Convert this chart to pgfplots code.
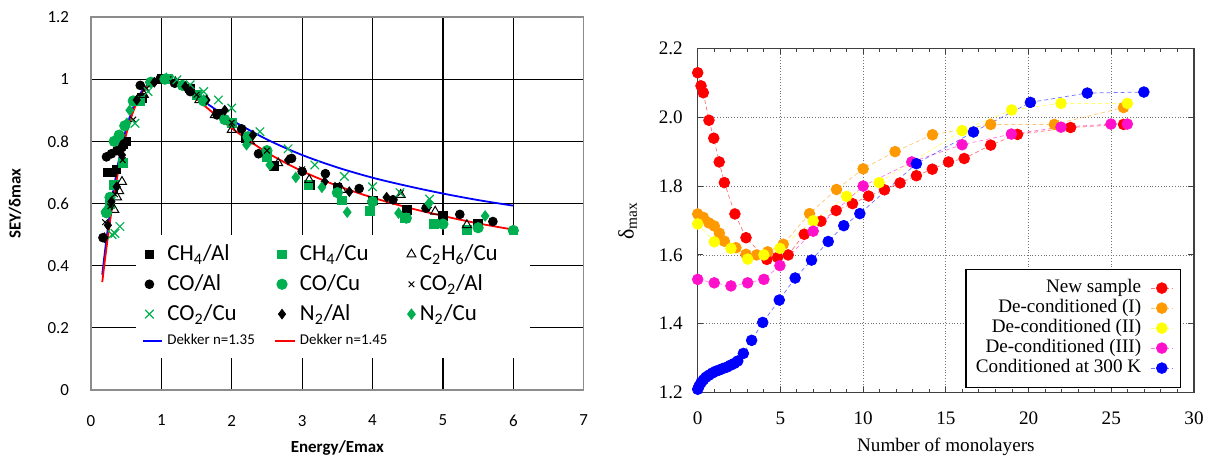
\documentclass[border=0pt]{standalone}
\usepackage{fontspec}
\setmainfont{Carlito}
\newfontfamily\libserif{Liberation Serif}
\usepackage{pgfplots}
\pgfplotsset{compat=1.18}
\definecolor{xlgreen}{HTML}{00B050}
\definecolor{framegray}{HTML}{8C8C8C}
\definecolor{sred}{HTML}{FF0000}
\definecolor{sorange}{HTML}{FF9900}
\definecolor{syellow}{HTML}{FFFF00}
\definecolor{smagenta}{HTML}{FF11CC}
\definecolor{sblue}{HTML}{0000FF}

\pgfplotsset{
  lmark/.style={only marks, legend image code/.code={\draw[##1] plot coordinates {(0.12cm,0cm)};}},
  lcurve/.style={no marks, line width=0.9bp, smooth, legend image code/.code={\draw[##1] (0cm,0cm) -- (0.35cm,0cm);}},
  mono/.style={color=#1, line width=0.35bp, dash pattern=on 2bp off 1.5bp, draw opacity=0.55,
    mark=*, mark size=2.7bp, mark options={solid, fill=#1, draw=#1, draw opacity=1, fill opacity=1},
    legend image code/.code={\draw[mark repeat=2,mark phase=2,##1] plot coordinates {(0cm,0cm) (0.2cm,0cm) (0.4cm,0cm)};}},
}
\newcommand{\lgd}[1]{\makebox[50bp][l]{#1}}
\newcommand{\rfont}{\libserif\fontsize{9.6}{11}\selectfont}

\begin{document}
\begin{tikzpicture}
\useasboundingbox (0,0) rectangle (608.5bp,229.5bp);

% left panel: normalised SEY curves
\begin{axis}[
  at={(45.5bp,34.5bp)}, anchor=south west,
  scale only axis, width=246.35bp, height=186.5bp,
  xmin=0, xmax=7, ymin=0, ymax=1.2,
  xtick={0,1,2,3,4,5,6,7}, ytick={0,0.2,0.4,0.6,0.8,1,1.2},
  grid=major, grid style={black, line width=0.6bp},
  axis line style={framegray, line width=0.7bp},
  major tick length=0pt,
  tick label style={font=\fontsize{8.5}{10}\selectfont},
  /pgf/number format/assume math mode=true,
  xticklabel style={yshift=-9bp},
  yticklabel style={xshift=-7.5bp, /pgf/number format/fixed},
  xlabel={Energy/Emax}, ylabel={SEY/δmax},
  label style={font=\fontsize{8.5}{10}\selectfont\bfseries},
  xlabel style={at={(axis description cs:0.5,-0.155)}, anchor=center},
  ylabel style={at={(axis description cs:-0.154,0.5)}, anchor=center},
  legend columns=3,
  legend style={at={(axis cs:0.63,0.5)}, anchor=north west, draw=none, fill=white,
    inner xsep=3pt, inner ysep=3pt, font=\fontsize{11.5}{13}\selectfont,
    /tikz/every even column/.append style={column sep=1.5bp},
    /tikz/row sep=1.5bp},
  legend cell align=left,
]
\addplot[lmark, mark=square*, mark size=2.2bp, black] coordinates {
(0.24,0.70)(0.30,0.70)(0.36,0.71)(0.45,0.79)(0.50,0.80)(0.72,0.94)(1.00,1.00)(1.40,0.97)
(1.80,0.89)(2.20,0.81)(2.60,0.72)(3.11,0.66)(3.50,0.65)(4.00,0.61)(4.49,0.58)(5.00,0.56)
(5.50,0.535)(6.00,0.50)};
\addlegendentry{\lgd{CH\textsubscript{4}/Al}}
\addplot[lmark, mark=square*, mark size=2.2bp, xlgreen] coordinates {
(0.27,0.60)(0.33,0.66)(0.45,0.73)(0.70,0.93)(1.10,1.00)(1.50,0.95)(2.00,0.86)(2.50,0.75)
(3.09,0.66)(3.56,0.61)(3.96,0.575)(4.46,0.553)(4.87,0.535)(5.34,0.515)(6.00,0.51)};
\addlegendentry{\lgd{CH\textsubscript{4}/Cu}}
\addplot[lmark, mark=triangle, mark size=2.6bp, black, mark options={line width=0.5bp}] coordinates {
(0.33,0.58)(0.37,0.62)(0.40,0.64)(0.44,0.67)(0.75,0.95)(1.20,0.99)(1.54,0.933)(1.76,0.885)
(2.00,0.837)(2.26,0.80)(2.66,0.73)(3.10,0.676)(3.56,0.644)(4.40,0.628)(4.89,0.574)(5.34,0.531)};
\addlegendentry{\lgd{C\textsubscript{2}H\textsubscript{6}/Cu}}
\addplot[lmark, mark=*, mark size=2.2bp, black] coordinates {
(0.17,0.49)(0.22,0.75)(0.29,0.76)(0.365,0.77)(0.44,0.78)(0.70,0.98)(0.84,0.99)(0.98,1.00)
(1.19,0.987)(1.41,0.96)(1.79,0.885)(2.14,0.84)(2.38,0.76)(2.85,0.745)(3.00,0.703)(3.33,0.696)
(3.81,0.648)(4.29,0.612)(4.76,0.585)(5.24,0.565)(5.71,0.542)};
\addlegendentry{\lgd{CO/Al}}
\addplot[lmark, mark=*, mark size=2.6bp, xlgreen] coordinates {
(0.22,0.57)(0.27,0.62)(0.33,0.80)(0.40,0.82)(0.48,0.85)(0.60,0.93)(0.85,0.99)(1.05,1.00)
(1.30,0.98)(1.60,0.93)(1.90,0.87)(2.23,0.815)(2.50,0.77)(3.50,0.635)(4.00,0.606)(4.48,0.553)
(5.00,0.534)(5.50,0.522)(6.00,0.513)};
\addlegendentry{\lgd{CO/Cu}}
\addplot[lmark, mark=x, mark size=2bp, black, mark options={line width=0.5bp}] coordinates {
(0.20,0.54)(0.27,0.59)(0.34,0.63)(0.45,0.74)(0.60,0.87)(0.79,0.97)(1.10,1.00)(1.50,0.95)
(2.00,0.86)(2.50,0.77)(3.00,0.71)(3.50,0.66)(4.40,0.633)(4.80,0.595)};
\addlegendentry{\lgd{CO\textsubscript{2}/Al}}
\addplot[lmark, mark=x, mark size=3bp, xlgreen, mark options={line width=0.6bp}] coordinates {
(0.30,0.50)(0.34,0.504)(0.41,0.526)(0.625,0.858)(0.81,0.96)(1.22,0.998)(1.41,0.982)(1.60,0.96)
(1.81,0.933)(2.00,0.907)(2.40,0.831)(2.80,0.776)(3.18,0.724)(3.60,0.687)(4.00,0.654)(4.39,0.635)
(4.81,0.614)};
\addlegendentry{\lgd{CO\textsubscript{2}/Cu}}
\addplot[lmark, mark=diamond*, mark size=2.4bp, black] coordinates {
(0.19,0.49)(0.24,0.53)(0.29,0.606)(0.365,0.654)(0.44,0.756)(0.65,0.933)(0.90,0.99)(1.34,0.976)
(1.64,0.933)(1.90,0.90)(2.30,0.82)(2.80,0.74)(3.32,0.67)(3.67,0.638)(4.20,0.62)};
\addlegendentry{\lgd{N\textsubscript{2}/Al}}
\addplot[lmark, mark=diamond*, mark size=2.6bp, xlgreen] coordinates {
(0.20,0.574)(0.365,0.805)(0.51,0.858)(0.55,0.90)(1.07,1.003)(1.60,0.933)(2.21,0.789)(2.54,0.724)
(2.91,0.684)(3.28,0.652)(3.64,0.572)(4.37,0.569)(4.80,0.60)(5.60,0.56)};
\addlegendentry{\lgd{N\textsubscript{2}/Cu}}
\addplot[lcurve, sblue] coordinates {
(0.16,0.371)(0.2,0.449)(0.25,0.538)(0.3,0.616)(0.4,0.745)(0.5,0.841)(0.6,0.909)(0.7,0.954)
(0.8,0.981)(0.9,0.995)(1.0,0.999)(1.2,0.986)(1.4,0.960)(1.6,0.929)(1.8,0.898)(2.0,0.868)
(2.5,0.806)(3.0,0.756)(3.5,0.716)(4.0,0.683)(4.5,0.656)(5.0,0.632)(5.5,0.611)(6.0,0.593)};
\addlegendentry{\lgd{\fontsize{7.5}{9}\selectfont Dekker n=1.35}}
\addplot[lcurve, sred] coordinates {
(0.16,0.347)(0.2,0.422)(0.25,0.509)(0.3,0.587)(0.4,0.720)(0.5,0.822)(0.6,0.896)(0.7,0.947)
(0.8,0.979)(0.9,0.995)(1.0,1.000)(1.2,0.987)(1.4,0.955)(1.6,0.917)(1.8,0.879)(2.0,0.842)
(2.5,0.764)(3.0,0.704)(3.5,0.657)(4.0,0.619)(4.5,0.587)(5.0,0.560)(5.5,0.536)(6.0,0.516)};
\addlegendentry{\lgd{\fontsize{7.5}{9}\selectfont Dekker n=1.45}}
\end{axis}

% right panel: delta_max versus coverage
\begin{axis}[
  at={(348.85bp,33.15bp)}, anchor=south west,
  scale only axis, width=248.15bp, height=172.2bp,
  xmin=0, xmax=30, ymin=1.2, ymax=2.2,
  xtick={0,5,10,15,20,25,30}, ytick={1.2,1.4,1.6,1.8,2.0,2.2},
  xticklabels={0,5,10,15,20,25,30},
  yticklabels={1.2,1.4,1.6,1.8,2.0,2.2},
  minor x tick num=4,
  tick align=inside, major tick length=2.8bp, minor tick length=1.8bp,
  xmajorgrids, ymajorgrids, grid style={densely dotted, black!55, line width=0.4bp},
  axis line style={black!75, line width=0.6bp},
  tick style={black!75, line width=0.5bp},
  tick label style={font=\rfont},
  yticklabel style={xshift=-4bp},
  xticklabel style={yshift=-6bp},
  xlabel={Number of monolayers}, ylabel={\fontsize{11}{12}\selectfont δ\textsubscript{max}},
  label style={font=\rfont},
  xlabel style={at={(axis description cs:0.5,-0.157)}, anchor=center},
  ylabel style={at={(axis description cs:-0.141,0.5)}, anchor=center},
  legend style={at={(rel axis cs:0.974,0.0145)}, anchor=south east, draw=black, line width=0.6bp, fill=white,
    font=\rfont, inner xsep=3.5pt, inner ysep=4.5bp,
    nodes={inner sep=1.5pt, inner ysep=0.3bp, text height=6.9bp, text depth=2.5bp},
    /tikz/every odd column/.append style={column sep=3bp}},
  legend cell align=right, legend plot pos=right,
]
\addplot[mono=sred] coordinates {
(0,2.129)(0.2,2.091)(0.34,2.071)(0.68,1.991)(0.97,1.939)(1.3,1.870)(1.61,1.810)(2.25,1.719)
(2.92,1.650)(4.18,1.587)(4.83,1.593)(5.47,1.600)(6.44,1.660)(7.45,1.698)(8.37,1.729)(9.36,1.749)
(10.33,1.771)(11.29,1.789)(12.23,1.809)(13.22,1.830)(14.18,1.849)(15.16,1.870)(16.11,1.880)
(17.71,1.919)(19.33,1.950)(22.54,1.970)(25.74,1.979)};
\addlegendentry{New sample}
\addplot[mono=sorange] coordinates {
(0,1.719)(0.34,1.709)(0.68,1.693)(1.0,1.684)(1.31,1.663)(1.61,1.640)(2.31,1.621)(2.92,1.602)
(3.56,1.600)(4.23,1.609)(5.17,1.631)(6.76,1.720)(8.39,1.790)(10.0,1.850)(11.93,1.900)
(14.19,1.949)(17.71,1.979)(21.56,1.979)(25.74,2.028)};
\addlegendentry{De-conditioned (I)}
\addplot[mono=syellow] coordinates {
(0,1.690)(1.0,1.638)(2.01,1.619)(3.02,1.588)(4.0,1.600)(4.97,1.619)(6.98,1.699)(9.0,1.770)
(10.97,1.810)(15.98,1.961)(18.98,2.021)(21.96,2.040)(25.97,2.040)};
\addlegendentry{De-conditioned (II)}
\addplot[mono=smagenta] coordinates {
(0,1.529)(1.0,1.519)(2.01,1.510)(3.02,1.519)(4.0,1.529)(4.97,1.569)(6.98,1.669)(10.0,1.800)
(12.94,1.870)(15.98,1.920)(18.96,1.951)(21.96,1.971)(24.98,1.980)(25.97,1.980)};
\addlegendentry{De-conditioned (III)}
\addplot[mono=sblue] coordinates {
(0,1.210)(0.08,1.219)(0.2,1.229)(0.34,1.237)(0.5,1.245)(0.68,1.251)(0.88,1.257)(1.08,1.262)
(1.31,1.266)(1.51,1.270)(1.75,1.274)(1.99,1.280)(2.21,1.285)(2.42,1.292)(2.76,1.314)(3.26,1.352)
(3.93,1.404)(4.93,1.469)(5.89,1.533)(6.88,1.585)(7.89,1.639)(8.83,1.685)(9.8,1.720)(13.22,1.865)
(16.67,1.957)(20.11,2.043)(23.55,2.070)(26.97,2.073)};
\addlegendentry{Conditioned at 300 K}
\end{axis}
\end{tikzpicture}
\end{document}
